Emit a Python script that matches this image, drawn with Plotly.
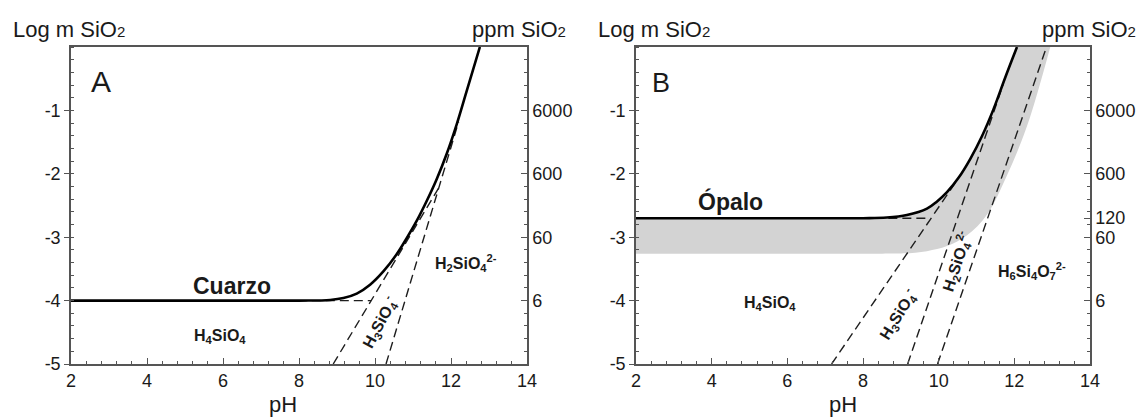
import numpy as np
import plotly.graph_objects as go

# ---------------- data ----------------
# Panel A : quartz (Cuarzo) solubility, log m SiO2 vs pH
a_total_ph = [2.0, 5.0, 8.0, 8.82, 9.17, 9.52, 9.87, 10.22, 10.57, 10.83, 11.10, 11.36, 11.62, 11.89, 12.15, 12.41, 12.76]
a_total_log = [-4.0, -4.0, -4.0, -3.99, -3.96, -3.89, -3.75, -3.54, -3.27, -3.02, -2.74, -2.43, -2.09, -1.68, -1.22, -0.70, 0.0]
a_h4_ph, a_h4_log = [7.6, 9.9], [-4.0, -4.0]
a_h3_ph, a_h3_log = [8.9, 11.7], [-5.0, -2.2]
a_h2_ph, a_h2_log = [10.29, 12.2], [-5.0, -1.18]

# Panel B : amorphous silica (Ópalo)
b_total_ph = [2.0, 5.0, 8.0, 8.63, 9.16, 9.69, 9.95, 10.22, 10.53, 10.84, 11.15, 11.45, 11.76, 12.07]
b_total_log = [-2.7, -2.7, -2.7, -2.69, -2.65, -2.55, -2.44, -2.29, -2.06, -1.76, -1.40, -0.98, -0.48, 0.0]
b_low_ph = [2.0, 5.0, 8.5, 9.07, 9.69, 10.22, 10.75, 11.28, 11.81, 12.34, 12.95]
b_low_log = [-3.26, -3.26, -3.26, -3.255, -3.22, -3.14, -2.97, -2.64, -2.02, -1.24, 0.0]
b_h4_ph, b_h4_log = [8.3, 9.78], [-2.7, -2.7]
b_h3_ph, b_h3_log = [7.17, 10.5], [-5.0, -2.09]
b_h2_ph, b_h2_log = [9.18, 11.7], [-5.0, -0.6]
b_h6_ph, b_h6_log = [9.97, 12.85], [-5.0, 0.0]

x_ticks = [2, 4, 6, 8, 10, 12, 14]
y_ticks = [-5, -4, -3, -2, -1]
y_tick_text = ["-5", "-4", "-3", "-2", "-1"]
a_ppm_vals = [-1, -2, -3, -4]
a_ppm_text = ["6000", "600", "60", "6"]
b_ppm_vals = [-1, -2, -2.7, -3, -4]
b_ppm_text = ["6000", "600", "120", "60", "6"]

# ---------------- figure ----------------
FONT = "Arial, Liberation Sans, sans-serif"
TXT = "#1a1a1a"
AX = "#555555"
W, H = 1148, 417
ML, MR, MT, MB = 71, 58, 47, 53
PW = W - ML - MR
PH_ = H - MT - MB


def px2paper_x(px):
    return (px - ML) / PW


def px2paper_y(py):
    return (H - MB - py) / PH_


fig = go.Figure()

solid = dict(color="black", width=2.6, shape="spline", smoothing=1.0)
dashed = dict(color="#1e1e1e", width=1.4, dash="9px,5px")

# band in panel B
fig.add_trace(go.Scatter(x=b_low_ph, y=b_low_log, xaxis="x2", yaxis="y3", mode="lines",
                         line=dict(width=0, shape="spline", smoothing=1.0, color="#d3d3d3"),
                         showlegend=False, hoverinfo="skip"))
fig.add_trace(go.Scatter(x=b_total_ph, y=b_total_log, xaxis="x2", yaxis="y3", mode="lines",
                         line=dict(width=0, shape="spline", smoothing=1.0, color="#d3d3d3"),
                         fill="tonexty", fillcolor="#d3d3d3", showlegend=False, hoverinfo="skip"))

# dashed species lines
for xs, ys, xa, ya in [(a_h4_ph, a_h4_log, "x", "y"), (a_h3_ph, a_h3_log, "x", "y"),
                       (a_h2_ph, a_h2_log, "x", "y"),
                       (b_h4_ph, b_h4_log, "x2", "y3"), (b_h3_ph, b_h3_log, "x2", "y3"),
                       (b_h2_ph, b_h2_log, "x2", "y3"), (b_h6_ph, b_h6_log, "x2", "y3")]:
    fig.add_trace(go.Scatter(x=xs, y=ys, xaxis=xa, yaxis=ya, mode="lines", line=dashed,
                             showlegend=False, hoverinfo="skip", cliponaxis=True))

# solubility curves
fig.add_trace(go.Scatter(x=a_total_ph, y=a_total_log, xaxis="x", yaxis="y", mode="lines",
                         line=solid, showlegend=False, hoverinfo="skip"))
fig.add_trace(go.Scatter(x=b_total_ph, y=b_total_log, xaxis="x2", yaxis="y3", mode="lines",
                         line=solid, showlegend=False, hoverinfo="skip"))

# dummy traces so the right axes are drawn
fig.add_trace(go.Scatter(x=[None], y=[None], xaxis="x", yaxis="y2", showlegend=False, hoverinfo="skip"))
fig.add_trace(go.Scatter(x=[None], y=[None], xaxis="x2", yaxis="y4", showlegend=False, hoverinfo="skip"))

dA = (527 - ML) / PW
dB0 = (636 - ML) / PW

tickfont = dict(family=FONT, size=18, color=TXT)
minor_x = dict(tickmode="array", tickvals=[round(v, 2) for v in np.arange(2, 14.01, 0.4)],
               ticks="inside", ticklen=3, tickcolor=AX, showgrid=False)
minor_y = dict(tickmode="array", tickvals=[round(v, 2) for v in np.arange(-5, 0.01, 0.2)],
               ticks="inside", ticklen=3, tickcolor=AX, showgrid=False)


def xaxis(domain, anchor):
    return dict(domain=domain, anchor=anchor, range=[2, 14], tickmode="array", tickvals=x_ticks,
                ticks="inside", ticklen=6, tickcolor=AX, tickwidth=1.2, showline=True, linecolor=AX,
                linewidth=1.5, mirror=True, showgrid=False, zeroline=False, tickfont=tickfont,
                minor=minor_x)


def yleft(anchor):
    return dict(anchor=anchor, domain=[0, 1], range=[-5, 0], tickmode="array", tickvals=y_ticks,
                ticktext=y_tick_text,
                ticks="outside", ticklen=5, tickcolor=AX, tickwidth=1.2, showline=True, linecolor=AX,
                linewidth=1.5, showgrid=False, zeroline=False, tickfont=tickfont, minor=minor_y)


def yright(anchor, overlay, vals, text):
    return dict(anchor=anchor, overlaying=overlay, side="right", range=[-5, 0], tickmode="array",
                tickvals=vals, ticktext=text, ticks="inside", ticklen=6, tickcolor=AX, tickwidth=1.2,
                showline=True, linecolor=AX, linewidth=1.5, showgrid=False, zeroline=False,
                tickfont=tickfont, minor=minor_y)


annotations = []


def ann(text, x, y, xref, yref, size, bold=False, angle=0, xanchor="center", yanchor="middle"):
    t = f"<b>{text}</b>" if bold else text
    annotations.append(dict(text=t, x=x, y=y, xref=xref, yref=yref, showarrow=False,
                            font=dict(family=FONT, size=size, color=TXT), textangle=angle,
                            xanchor=xanchor, yanchor=yanchor))


sub2 = "<span style='font-size:15px'>2</span>"
# axis titles
ann("Log m SiO" + sub2, px2paper_x(11), px2paper_y(30), "paper", "paper", 22, xanchor="left")
ann("ppm SiO" + sub2, px2paper_x(568), px2paper_y(30), "paper", "paper", 22, xanchor="right")
ann("Log m SiO" + sub2, px2paper_x(596), px2paper_y(30), "paper", "paper", 22, xanchor="left")
ann("ppm SiO" + sub2, px2paper_x(1138), px2paper_y(30), "paper", "paper", 22, xanchor="right")
ann("pH", px2paper_x(283), px2paper_y(404), "paper", "paper", 22)
ann("pH", px2paper_x(843), px2paper_y(404), "paper", "paper", 22)

# panel A labels
ann("A", 2.79, -0.55, "x", "y", 30)
ann("Cuarzo", 6.24, -3.77, "x", "y", 23, bold=True)
ann("H<sub>4</sub>SiO<sub>4</sub>", 5.92, -4.57, "x", "y", 16, bold=True)
ann("H<sub>3</sub>SiO<sub>4</sub><sup>-</sup>", 10.13, -4.34, "x", "y", 16, bold=True, angle=-62)
ann("H<sub>2</sub>SiO<sub>4</sub><sup>2-</sup>", 12.39, -3.41, "x", "y", 16, bold=True)

# panel B labels
ann("B", 2.66, -0.56, "x2", "y3", 27)
ann("Ópalo", 4.51, -2.44, "x2", "y3", 23, bold=True)
ann("H<sub>4</sub>SiO<sub>4</sub>", 5.54, -4.04, "x2", "y3", 16, bold=True)
ann("H<sub>3</sub>SiO<sub>4</sub><sup>-</sup>", 8.93, -4.21, "x2", "y3", 16, bold=True, angle=-58)
ann("H<sub>2</sub>SiO<sub>4</sub><sup>2-</sup>", 10.49, -3.38, "x2", "y3", 16, bold=True, angle=-72)
ann("H<sub>6</sub>Si<sub>4</sub>O<sub>7</sub><sup>2-</sup>", 12.48, -3.54, "x2", "y3", 16, bold=True)

fig.update_layout(
    width=W, height=H,
    margin=dict(l=ML, r=MR, t=MT, b=MB, pad=0),
    paper_bgcolor="white", plot_bgcolor="white",
    showlegend=False,
    font=dict(family=FONT, color=TXT),
    xaxis=xaxis([0, dA], "y"),
    yaxis=yleft("x"),
    yaxis2=yright("x", "y", a_ppm_vals, a_ppm_text),
    xaxis2=xaxis([dB0, 1], "y3"),
    yaxis3=yleft("x2"),
    yaxis4=yright("x2", "y3", b_ppm_vals, b_ppm_text),
    annotations=annotations,
)

fig.write_html("out.html")
